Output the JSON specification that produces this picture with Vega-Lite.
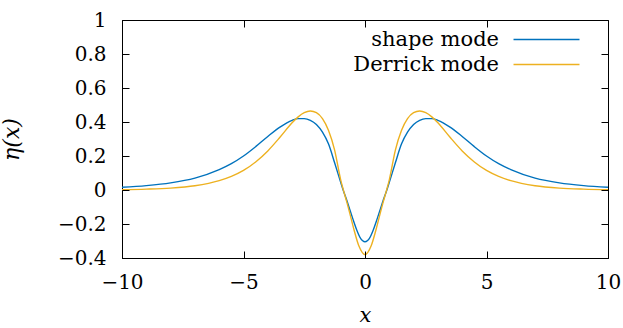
{
  "$schema": "https://vega.github.io/schema/vega-lite/v6.json",
  "width": 486,
  "height": 238,
  "autosize": {"type": "none"},
  "padding": {"left": 122, "top": 20, "right": 15, "bottom": 70},
  "background": "white",
  "config": {
    "view": {"stroke": "black", "strokeWidth": 1},
    "font": "DejaVu Serif",
    "axis": {
      "grid": false,
      "labelFlush": false,
      "domainColor": "black",
      "labelFont": "DejaVu Serif",
      "labelFontSize": 20,
      "labelColor": "black",
      "titleFont": "DejaVu Serif",
      "titleFontSize": 21,
      "titleFontWeight": "normal",
      "titleColor": "black"
    },
    "legend": {
      "labelFont": "DejaVu Serif",
      "labelFontSize": 21,
      "labelColor": "black"
    }
  },
  "datasets": {
    "curves": [
      {"x": -10, "y": 0.016, "mode": "shape mode"},
      {"x": -9, "y": 0.026, "mode": "shape mode"},
      {"x": -8, "y": 0.042, "mode": "shape mode"},
      {"x": -7, "y": 0.07, "mode": "shape mode"},
      {"x": -6, "y": 0.12, "mode": "shape mode"},
      {"x": -5.5, "y": 0.155, "mode": "shape mode"},
      {"x": -5, "y": 0.2, "mode": "shape mode"},
      {"x": -4.5, "y": 0.255, "mode": "shape mode"},
      {"x": -4, "y": 0.315, "mode": "shape mode"},
      {"x": -3.5, "y": 0.37, "mode": "shape mode"},
      {"x": -3, "y": 0.41, "mode": "shape mode"},
      {"x": -2.75, "y": 0.42, "mode": "shape mode"},
      {"x": -2.5, "y": 0.42, "mode": "shape mode"},
      {"x": -2.25, "y": 0.41, "mode": "shape mode"},
      {"x": -2, "y": 0.385, "mode": "shape mode"},
      {"x": -1.75, "y": 0.34, "mode": "shape mode"},
      {"x": -1.5, "y": 0.27, "mode": "shape mode"},
      {"x": -1.25, "y": 0.16, "mode": "shape mode"},
      {"x": -1, "y": 0.045, "mode": "shape mode"},
      {"x": -0.9, "y": 0.0, "mode": "shape mode"},
      {"x": -0.75, "y": -0.06, "mode": "shape mode"},
      {"x": -0.62, "y": -0.118, "mode": "shape mode"},
      {"x": -0.5, "y": -0.17, "mode": "shape mode"},
      {"x": -0.34, "y": -0.235, "mode": "shape mode"},
      {"x": -0.2, "y": -0.28, "mode": "shape mode"},
      {"x": 0, "y": -0.304, "mode": "shape mode"},
      {"x": 0.2, "y": -0.28, "mode": "shape mode"},
      {"x": 0.34, "y": -0.235, "mode": "shape mode"},
      {"x": 0.5, "y": -0.17, "mode": "shape mode"},
      {"x": 0.62, "y": -0.118, "mode": "shape mode"},
      {"x": 0.75, "y": -0.06, "mode": "shape mode"},
      {"x": 0.9, "y": 0.0, "mode": "shape mode"},
      {"x": 1, "y": 0.045, "mode": "shape mode"},
      {"x": 1.25, "y": 0.16, "mode": "shape mode"},
      {"x": 1.5, "y": 0.27, "mode": "shape mode"},
      {"x": 1.75, "y": 0.34, "mode": "shape mode"},
      {"x": 2, "y": 0.385, "mode": "shape mode"},
      {"x": 2.25, "y": 0.41, "mode": "shape mode"},
      {"x": 2.5, "y": 0.42, "mode": "shape mode"},
      {"x": 2.75, "y": 0.42, "mode": "shape mode"},
      {"x": 3, "y": 0.41, "mode": "shape mode"},
      {"x": 3.5, "y": 0.37, "mode": "shape mode"},
      {"x": 4, "y": 0.315, "mode": "shape mode"},
      {"x": 4.5, "y": 0.255, "mode": "shape mode"},
      {"x": 5, "y": 0.2, "mode": "shape mode"},
      {"x": 5.5, "y": 0.155, "mode": "shape mode"},
      {"x": 6, "y": 0.12, "mode": "shape mode"},
      {"x": 7, "y": 0.07, "mode": "shape mode"},
      {"x": 8, "y": 0.042, "mode": "shape mode"},
      {"x": 9, "y": 0.026, "mode": "shape mode"},
      {"x": 10, "y": 0.016, "mode": "shape mode"},
      {"x": -10, "y": 0.002, "mode": "Derrick mode"},
      {"x": -9, "y": 0.005, "mode": "Derrick mode"},
      {"x": -8, "y": 0.011, "mode": "Derrick mode"},
      {"x": -7, "y": 0.025, "mode": "Derrick mode"},
      {"x": -6, "y": 0.055, "mode": "Derrick mode"},
      {"x": -5.5, "y": 0.08, "mode": "Derrick mode"},
      {"x": -5, "y": 0.115, "mode": "Derrick mode"},
      {"x": -4.5, "y": 0.165, "mode": "Derrick mode"},
      {"x": -4, "y": 0.23, "mode": "Derrick mode"},
      {"x": -3.5, "y": 0.31, "mode": "Derrick mode"},
      {"x": -3, "y": 0.395, "mode": "Derrick mode"},
      {"x": -2.75, "y": 0.43, "mode": "Derrick mode"},
      {"x": -2.5, "y": 0.455, "mode": "Derrick mode"},
      {"x": -2.25, "y": 0.465, "mode": "Derrick mode"},
      {"x": -2, "y": 0.455, "mode": "Derrick mode"},
      {"x": -1.75, "y": 0.42, "mode": "Derrick mode"},
      {"x": -1.5, "y": 0.35, "mode": "Derrick mode"},
      {"x": -1.25, "y": 0.235, "mode": "Derrick mode"},
      {"x": -1, "y": 0.06, "mode": "Derrick mode"},
      {"x": -0.9, "y": 0.005, "mode": "Derrick mode"},
      {"x": -0.75, "y": -0.07, "mode": "Derrick mode"},
      {"x": -0.66, "y": -0.118, "mode": "Derrick mode"},
      {"x": -0.45, "y": -0.235, "mode": "Derrick mode"},
      {"x": -0.25, "y": -0.33, "mode": "Derrick mode"},
      {"x": 0, "y": -0.38, "mode": "Derrick mode"},
      {"x": 0.25, "y": -0.33, "mode": "Derrick mode"},
      {"x": 0.45, "y": -0.235, "mode": "Derrick mode"},
      {"x": 0.66, "y": -0.118, "mode": "Derrick mode"},
      {"x": 0.75, "y": -0.07, "mode": "Derrick mode"},
      {"x": 0.9, "y": 0.005, "mode": "Derrick mode"},
      {"x": 1, "y": 0.06, "mode": "Derrick mode"},
      {"x": 1.25, "y": 0.235, "mode": "Derrick mode"},
      {"x": 1.5, "y": 0.35, "mode": "Derrick mode"},
      {"x": 1.75, "y": 0.42, "mode": "Derrick mode"},
      {"x": 2, "y": 0.455, "mode": "Derrick mode"},
      {"x": 2.25, "y": 0.465, "mode": "Derrick mode"},
      {"x": 2.5, "y": 0.455, "mode": "Derrick mode"},
      {"x": 2.75, "y": 0.43, "mode": "Derrick mode"},
      {"x": 3, "y": 0.395, "mode": "Derrick mode"},
      {"x": 3.5, "y": 0.31, "mode": "Derrick mode"},
      {"x": 4, "y": 0.23, "mode": "Derrick mode"},
      {"x": 4.5, "y": 0.165, "mode": "Derrick mode"},
      {"x": 5, "y": 0.115, "mode": "Derrick mode"},
      {"x": 5.5, "y": 0.08, "mode": "Derrick mode"},
      {"x": 6, "y": 0.055, "mode": "Derrick mode"},
      {"x": 7, "y": 0.025, "mode": "Derrick mode"},
      {"x": 8, "y": 0.011, "mode": "Derrick mode"},
      {"x": 9, "y": 0.005, "mode": "Derrick mode"},
      {"x": 10, "y": 0.002, "mode": "Derrick mode"}
    ]
  },
  "data": {"name": "curves"},
  "layer": [
    {
      "mark": {"type": "line", "interpolate": "monotone", "strokeWidth": 1.4, "clip": true},
      "encoding": {
        "x": {
          "field": "x", "type": "quantitative",
          "scale": {"domain": [-10, 10], "nice": false, "zero": false},
          "axis": {"orient": "bottom", "values": [-10, -5, 0, 5, 10], "ticks": false, "title": "x", "titleFontStyle": "italic", "labelPadding": 14, "titlePadding": 12}
        },
        "y": {
          "field": "y", "type": "quantitative",
          "scale": {"domain": [-0.4, 1], "nice": false, "zero": false},
          "axis": {"orient": "left", "values": [-0.4, -0.2, 0, 0.2, 0.4, 0.6, 0.8, 1], "ticks": false, "format": ".1~f", "title": "η(x)", "titleFontStyle": "italic", "titleFontSize": 22, "labelPadding": 16, "titlePadding": 34}
        },
        "color": {
          "field": "mode", "type": "nominal",
          "scale": {"domain": ["shape mode", "Derrick mode"], "range": ["#0072bd", "#edb120"]},
          "legend": {
            "title": null,
            "orient": "none",
            "legendX": 414,
            "legendY": 9,
            "symbolType": "M-4,0H4",
            "symbolSize": 272,
            "symbolStrokeWidth": 1.4,
            "labelAlign": "right",
            "labelOffset": -58,
            "rowPadding": 3
          }
        }
      }
    },
    {
      "mark": {"type": "point", "opacity": 0},
      "encoding": {
        "x": {
          "field": "x", "type": "quantitative",
          "scale": {"domain": [-10, 10], "nice": false, "zero": false},
          "axis": {"orient": "top", "offset": -238, "zindex": 1, "domain": false, "tickSize": 7, "tickColor": "black", "tickWidth": 1, "labels": false, "values": [-10, -5, 0, 5, 10], "title": null}
        },
        "y": {
          "field": "y", "type": "quantitative",
          "scale": {"domain": [-0.4, 1], "nice": false, "zero": false},
          "axis": {"orient": "right", "offset": -486, "zindex": 1, "domain": false, "tickSize": 7, "tickColor": "black", "tickWidth": 1, "labels": false, "values": [-0.4, -0.2, 0, 0.2, 0.4, 0.6, 0.8, 1], "title": null}
        }
      }
    },
    {
      "mark": {"type": "point", "opacity": 0},
      "encoding": {
        "x": {
          "field": "x", "type": "quantitative",
          "scale": {"domain": [-10, 10], "nice": false, "zero": false},
          "axis": {"orient": "bottom", "offset": -238, "zindex": 1, "domain": false, "tickSize": 7, "tickColor": "black", "tickWidth": 1, "labels": false, "values": [-10, -5, 0, 5, 10], "title": null}
        },
        "y": {
          "field": "y", "type": "quantitative",
          "scale": {"domain": [-0.4, 1], "nice": false, "zero": false},
          "axis": {"orient": "left", "offset": -486, "zindex": 1, "domain": false, "tickSize": 7, "tickColor": "black", "tickWidth": 1, "labels": false, "values": [-0.4, -0.2, 0, 0.2, 0.4, 0.6, 0.8, 1], "title": null}
        }
      }
    }
  ],
  "resolve": {"axis": {"x": "independent", "y": "independent"}}
}
